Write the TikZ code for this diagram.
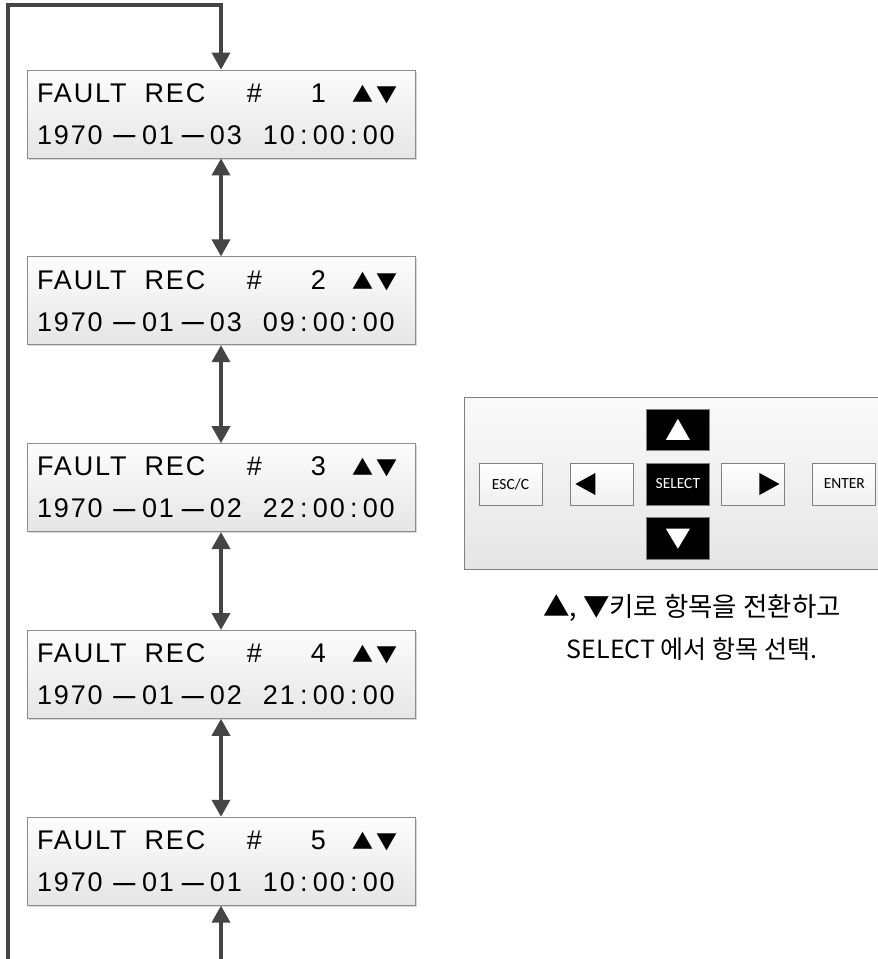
\documentclass[tikz,border=0pt]{standalone}
\usepackage{fontspec}
\setsansfont{Carlito}
\newfontfamily\kofont{Noto Sans CJK KR}
\newfontfamily\lcdfont[LetterSpace=7]{Liberation Sans}
\usetikzlibrary{positioning, arrows.meta, shadows}

\tikzset{
    lcdbox/.style={
        draw=black!45,
        line width=0.8pt,
        top color=black!1,
        bottom color=black!10,
        minimum width=388pt,
        minimum height=88pt,
        text width=368pt,
        align=left,
        inner xsep=10pt,
        inner ysep=2pt,
        font=\lcdfont\fontsize{27}{42}\selectfont,
        drop shadow={shadow xshift=1.5pt, shadow yshift=-1.5pt, fill=black!30}
    },
    link/.style={draw=black!73, line width=3.6pt},
    tip/.tip={Triangle[length=17pt, width=18pt]},
    keyplain/.style={
        draw=black!50,
        line width=0.7pt,
        top color=white,
        bottom color=black!6,
        minimum width=63pt,
        minimum height=42pt,
        inner sep=0pt,
        font=\sffamily\fontsize{15.5}{17}\selectfont
    },
    keydark/.style={
        keyplain,
        fill=black,
        top color=black,
        bottom color=black,
        text=white
    }
}

\newcommand{\lcddash}{{\bfseries\fontsize{22}{42}\selectfont\raisebox{1.5pt}{—}}}
\newcommand{\lcdcolon}{\makebox[18pt][c]{:}}
\newcommand{\lcdtext}[5]{%
    \makebox[210pt][l]{FAULT\ \ REC}\makebox[22pt][l]{\#}\makebox[57pt][r]{#1}\hspace{27pt}{\kofont\fontsize{21}{42}\selectfont ▲\kern3pt▼}\\
    \makebox[70pt][l]{1970}\makebox[35pt][c]{\lcddash}\makebox[34pt][l]{01}\makebox[34pt][c]{\lcddash}\makebox[53pt][l]{#2}%
    #3\lcdcolon #4\lcdcolon #5}

\begin{document}
\begin{tikzpicture}[x=1pt, y=-1pt]
    \useasboundingbox (0,0) rectangle (878,959);

    % fault records
    \node[lcdbox] (r1) at (221,114) {\lcdtext{1}{03}{10}{00}{00}};
    \node[lcdbox, below=98pt of r1] (r2) {\lcdtext{2}{03}{09}{00}{00}};
    \node[lcdbox, below=98pt of r2] (r3) {\lcdtext{3}{02}{22}{00}{00}};
    \node[lcdbox, below=98pt of r3] (r4) {\lcdtext{4}{02}{21}{00}{00}};
    \node[lcdbox, below=98pt of r4] (r5) {\lcdtext{5}{01}{10}{00}{00}};

    \draw[link, tip-tip] (r1) -- (r2);
    \draw[link, tip-tip] (r2) -- (r3);
    \draw[link, tip-tip] (r3) -- (r4);
    \draw[link, tip-tip] (r4) -- (r5);

    % wrap around
    \coordinate (loopin) at (221,962);
    \coordinate (loopout) at (8,962);
    \coordinate (looptop) at (8,5);
    \draw[link, -tip] (loopin) -- (r5);
    \draw[link, -tip] (loopout) -- (looptop) -| (r1.north);

    % key pad
    \path[draw=black!50, line width=0.8pt, top color=black!2, bottom color=black!10]
        (464,397) rectangle (890,569);
    \node[keyplain] (esc) at (510.5,484) {ESC/C};
    \node[keyplain, right=28pt of esc] (kleft) {};
    \node[keydark, right=12pt of kleft] (ksel) {SELECT};
    \node[keyplain, right=11pt of ksel] (kright) {};
    \node[keyplain, right=28pt of kright] (enter) {ENTER};
    \node[keydark, above=12pt of ksel, minimum height=41pt] (kup) {};
    \node[keydark, below=12pt of ksel] (kdown) {};

    \fill[white] (kup.center) ++(0,-11) -- ++(12,21) -- ++(-24,0) -- cycle;
    \fill[white] (kdown.center) ++(0,10) -- ++(12,-20) -- ++(-24,0) -- cycle;
    \fill[black] (kleft.west) ++(5,0) -- ++(20,-11) -- ++(0,22) -- cycle;
    \fill[black] (kright.east) ++(-5,0) -- ++(-20,-11) -- ++(0,22) -- cycle;

    \node[align=center, font=\kofont\fontsize{26.5}{42}\selectfont] (note) at (692,627)
        {▲, ▼키로 항목을 전환하고\\{\fontsize{25}{42}\selectfont SELECT 에서 항목 선택.}};
\end{tikzpicture}
\end{document}
